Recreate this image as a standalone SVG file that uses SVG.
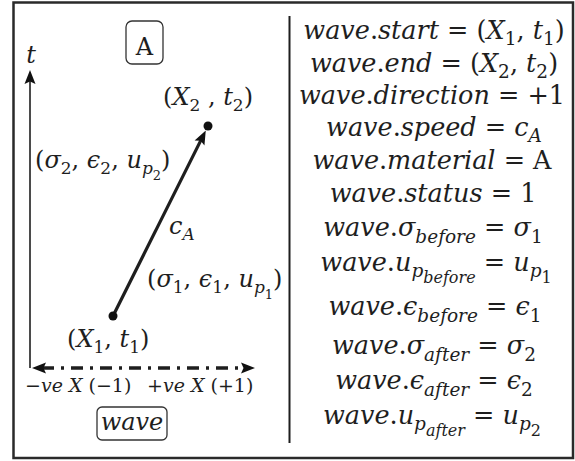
<svg xmlns="http://www.w3.org/2000/svg" width="575" height="461" viewBox="0 0 575 461">
<style>
.t{font-family:"DejaVu Serif","Liberation Serif",serif;fill:#1e1e1e;font-size:24px}
.r{font-size:25.5px}
.i{font-style:italic}
.s{font-size:17px}
.rs{font-size:18.5px}
.ss{font-size:13px}
.rss{font-size:16px}
.sm{font-size:19px}
.box{fill:none;stroke:#333;stroke-width:1.3}
.ln{stroke:#1e1e1e;fill:none}
.dot{fill:#111}
</style>
<defs>
<marker id="ah" viewBox="-15 -7 16 14" refX="-10" refY="0" markerWidth="16" markerHeight="14" markerUnits="userSpaceOnUse" orient="auto-start-reverse">
<path d="M0,0 L-14,-5.5 L-11.5,0 L-14,5.5 Z" fill="#111"/>
</marker>
</defs>
<rect x="0" y="0" width="575" height="461" fill="#fff"/>
<rect id="frame" x="13.5" y="2.5" width="559.5" height="455.5" fill="none" stroke="#2a2a2a" stroke-width="2.5"/>
<line id="divider" x1="289.5" y1="16" x2="289.5" y2="443" stroke="#1e1e1e" stroke-width="2"/>

<g id="connectors">
<line class="ln" x1="30" y1="368" x2="30" y2="80" stroke-width="1.6" marker-end="url(#ah)"/>
<line class="ln" x1="42" y1="368" x2="245" y2="368" stroke-width="3.5" stroke-dasharray="12 7 3 7" marker-start="url(#ah)" marker-end="url(#ah)"/>
<line class="ln" x1="113" y1="316" x2="201.3" y2="139.4" stroke-width="3.2" marker-end="url(#ah)"/>
</g>

<g id="materialA">
<rect class="box" x="126" y="21" width="37" height="43" rx="6"/>
<text class="t" x="144.5" y="55" text-anchor="middle" font-size="30">A</text>
</g>

<g id="tlabel"><text class="t i" x="31" y="63" text-anchor="middle" font-size="26">t</text></g>

<g id="end">
<circle class="dot" cx="208" cy="126" r="4.5"/>
<text class="t" x="163" y="105">(<tspan class="i">X</tspan><tspan class="s" dy="6">2</tspan><tspan dy="-6"> , </tspan><tspan class="i">t</tspan><tspan class="s" dy="6">2</tspan><tspan dy="-6">)</tspan></text>
</g>

<g id="state2">
<text class="t" x="35" y="168">(<tspan class="i">σ</tspan><tspan class="s" dy="6">2</tspan><tspan dy="-6">, </tspan><tspan class="i">ϵ</tspan><tspan class="s" dy="6">2</tspan><tspan dy="-6">, </tspan><tspan class="i">u</tspan><tspan class="i s" dy="6">p</tspan><tspan class="ss" dy="6">2</tspan><tspan dy="-12">)</tspan></text>
</g>

<g id="speed">
<text class="t i" x="169" y="234">c<tspan class="s" dy="6">A</tspan></text>
</g>

<g id="state1">
<text class="t" x="147" y="287">(<tspan class="i">σ</tspan><tspan class="s" dy="6">1</tspan><tspan dy="-6">, </tspan><tspan class="i">ϵ</tspan><tspan class="s" dy="6">1</tspan><tspan dy="-6">, </tspan><tspan class="i">u</tspan><tspan class="i s" dy="6">p</tspan><tspan class="ss" dy="6">1</tspan><tspan dy="-12">)</tspan></text>
</g>

<g id="start">
<circle class="dot" cx="113" cy="316" r="4.5"/>
<text class="t" x="67" y="347">(<tspan class="i">X</tspan><tspan class="s" dy="6">1</tspan><tspan dy="-6">, </tspan><tspan class="i">t</tspan><tspan class="s" dy="6">1</tspan><tspan dy="-6">)</tspan></text>
</g>

<g id="axislabels">
<text class="t sm" x="25" y="392">−<tspan class="i">ve X</tspan> (−1)</text>
<text class="t sm" x="147" y="392">+<tspan class="i">ve X</tspan> (+1)</text>
</g>

<g id="wave">
<rect class="box" x="97" y="407" width="70" height="33" rx="5"/>
<text class="t i" x="132" y="430" text-anchor="middle" font-size="25">wave</text>
</g>

<g id="properties">
<text class="t r" x="434" y="39" text-anchor="middle"><tspan class="i">wave</tspan>.<tspan class="i">start</tspan> = (<tspan class="i">X</tspan><tspan class="rs" dy="6">1</tspan><tspan dy="-6">, </tspan><tspan class="i">t</tspan><tspan class="rs" dy="6">1</tspan><tspan dy="-6">)</tspan></text>
<text class="t r" x="434" y="72" text-anchor="middle"><tspan class="i">wave</tspan>.<tspan class="i">end</tspan> = (<tspan class="i">X</tspan><tspan class="rs" dy="6">2</tspan><tspan dy="-6">, </tspan><tspan class="i">t</tspan><tspan class="rs" dy="6">2</tspan><tspan dy="-6">)</tspan></text>
<text class="t r" x="432" y="104" text-anchor="middle"><tspan class="i">wave</tspan>.<tspan class="i">direction</tspan> = +1</text>
<text class="t r" x="434" y="136" text-anchor="middle"><tspan class="i">wave</tspan>.<tspan class="i">speed</tspan> = <tspan class="i">c</tspan><tspan class="i rs" dy="6">A</tspan></text>
<text class="t r" x="432" y="169" text-anchor="middle"><tspan class="i">wave</tspan>.<tspan class="i">material</tspan> = A</text>
<text class="t r" x="433" y="202" text-anchor="middle"><tspan class="i">wave</tspan>.<tspan class="i">status</tspan> = 1</text>
<text class="t r" x="433" y="236" text-anchor="middle"><tspan class="i">wave</tspan>.<tspan class="i">σ</tspan><tspan class="i rs" dy="7">before</tspan><tspan dy="-7"> = </tspan><tspan class="i">σ</tspan><tspan class="rs" dy="7">1</tspan></text>
<text class="t r" x="436" y="271" text-anchor="middle"><tspan class="i">wave</tspan>.<tspan class="i">u</tspan><tspan class="i rs" dy="6">p</tspan><tspan class="i rss" dy="6">before</tspan><tspan dy="-12"> = </tspan><tspan class="i">u</tspan><tspan class="i rs" dy="6">p</tspan><tspan class="rss" dy="6">1</tspan></text>
<text class="t r" x="435" y="315" text-anchor="middle"><tspan class="i">wave</tspan>.<tspan class="i">ϵ</tspan><tspan class="i rs" dy="7">before</tspan><tspan dy="-7"> = </tspan><tspan class="i">ϵ</tspan><tspan class="rs" dy="7">1</tspan></text>
<text class="t r" x="434" y="354" text-anchor="middle"><tspan class="i">wave</tspan>.<tspan class="i">σ</tspan><tspan class="i rs" dy="7">after</tspan><tspan dy="-7"> = </tspan><tspan class="i">σ</tspan><tspan class="rs" dy="7">2</tspan></text>
<text class="t r" x="434" y="389" text-anchor="middle"><tspan class="i">wave</tspan>.<tspan class="i">ϵ</tspan><tspan class="i rs" dy="7">after</tspan><tspan dy="-7"> = </tspan><tspan class="i">ϵ</tspan><tspan class="rs" dy="7">2</tspan></text>
<text class="t r" x="432" y="424" text-anchor="middle"><tspan class="i">wave</tspan>.<tspan class="i">u</tspan><tspan class="i rs" dy="6">p</tspan><tspan class="i rss" dy="6">after</tspan><tspan dy="-12"> = </tspan><tspan class="i">u</tspan><tspan class="i rs" dy="6">p</tspan><tspan class="rss" dy="6">2</tspan></text>
</g>
</svg>
